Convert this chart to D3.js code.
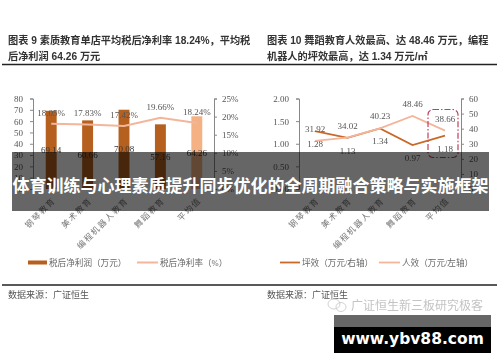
<!DOCTYPE html>
<html>
<head>
<meta charset="utf-8">
<script src="https://cdnjs.cloudflare.com/ajax/libs/d3/7.8.5/d3.min.js"></script>
<style>
    html, body { margin: 0; padding: 0; background: #fff; }
    svg { display: block; }
    text { font-family: "Liberation Serif", serif; fill: #555; }
    .cjk { font-family: "Liberation Serif", "Noto Sans CJK SC", sans-serif; }
    .head { font-family: "Liberation Sans", "Noto Sans CJK SC", sans-serif; }
    .axis path, .axis line { stroke: #888; }
    .soft { filter: blur(0.45px); }
</style>
</head>
<body>
<svg width="500" height="362"></svg>
<script>
// chart 9
const categories = ['钢琴教育', '美术教育', '编程机器人教育', '舞蹈教育', '平均值'];
const profit = [69.14, 60.66, 70.08, 57.16, 64.26];
const profitRate = [18.05, 17.83, 17.42, 19.66, 18.24];
const leftTicks = [0, 10, 20, 30, 40, 50, 60, 70, 80];
const rateTicks = [0, 5, 10, 15, 20, 25];

// chart 10
const floorEff = [1.28, 1.13, 1.34, 0.97, 1.18];
const staffEff = [31.92, 34.02, 40.23, 48.46, 38.66];
const floorTicks = [0, 0.5, 1, 1.5, 2];
const staffTicks = [0, 10, 20, 30, 40, 50, 60];

const svg = d3.select('svg');
const chart = svg.append('g').attr('class', 'soft');
const top_y = 98.5, bottom_y = 189;

function addText(g, str, x, y, size, opts = {}) {
    return g.append('text')
        .attr('class', opts.cls || 'cjk')
        .attr('x', x)
        .attr('y', y)
        .attr('font-size', size)
        .attr('font-weight', opts.weight || 400)
        .attr('text-anchor', opts.anchor || 'start')
        .style('fill', opts.fill || '#444')
        .text(str);
}

function styleAxis(g) {
    g.attr('class', 'axis');
    g.selectAll('text').attr('font-size', 9).style('fill', '#555');
    g.selectAll('line, path').attr('stroke', '#888');
}

function categoryLabels(g, x) {
    g.selectAll(null)
        .data(categories)
        .enter().append('text')
        .attr('class', 'cjk')
        .attr('font-size', 8.3)
        .attr('letter-spacing', 1.5)
        .attr('text-anchor', 'end')
        .style('fill', '#777')
        .attr('transform', d => `translate(${x(d) + 5}, 201) rotate(-45)`)
        .text(d => d);
}

// ---- headers and rules ----
const headOpts = { weight: 700, fill: '#333', cls: 'head' };
addText(chart, '图表 9 素质教育单店平均税后净利率 18.24%，平均税', 8, 43.5, 10.2, headOpts);
addText(chart, '后净利润 64.26 万元', 8, 59.5, 10.2, headOpts);
addText(chart, '图表 10 舞蹈教育人效最高、达 48.46 万元，编程', 267, 43.5, 10.2, headOpts);
addText(chart, '机器人的坪效最高，达 1.34 万元/㎡', 267, 59.5, 10.2, headOpts);

[[2, 497, 64.5], [2, 497, 285]].forEach(d => {
    chart.append('line')
        .attr('x1', d[0]).attr('x2', d[1])
        .attr('y1', d[2]).attr('y2', d[2])
        .attr('stroke', '#222').attr('stroke-width', 1.3);
});

addText(chart, '数据来源：广证恒生', 8, 297.5, 9, { fill: '#555' });
addText(chart, '数据来源：广证恒生', 267, 297.5, 9, { fill: '#555' });

// ---- chart 9: bars and rate line ----
const x9 = d3.scaleBand().domain(categories).range([33, 215]).paddingInner(0.7).paddingOuter(0.35);
const y9 = d3.scaleLinear().domain([0, 80]).range([bottom_y, top_y]);
const r9 = d3.scaleLinear().domain([0, 25]).range([bottom_y, top_y]);
const cx9 = d => x9(d) + x9.bandwidth() / 2;

chart.selectAll('.bar')
    .data(profit)
    .enter().append('rect')
    .attr('class', 'bar')
    .attr('x', (d, i) => x9(categories[i]))
    .attr('width', x9.bandwidth())
    .attr('y', d => y9(d))
    .attr('height', d => bottom_y - y9(d))
    .attr('fill', (d, i) => i === 4 ? '#f4b183' : '#b5601f');

chart.append('g')
    .attr('transform', 'translate(33, 0)')
    .call(d3.axisLeft(y9).tickValues(leftTicks).tickSize(3).tickPadding(7))
    .call(styleAxis);

chart.append('g')
    .attr('transform', 'translate(214, 0)')
    .call(d3.axisRight(r9).tickValues(rateTicks).tickFormat(d => d + '%').tickSize(3).tickPadding(5))
    .call(styleAxis);

chart.append('path')
    .datum(profitRate)
    .attr('fill', 'none')
    .attr('stroke', '#f4b59a')
    .attr('stroke-width', 2)
    .attr('d', d3.line().x((d, i) => cx9(categories[i])).y(d => r9(d)));

chart.selectAll('.rate-label')
    .data(profitRate)
    .enter().append('text')
    .attr('class', 'rate-label')
    .attr('x', (d, i) => cx9(categories[i]))
    .attr('y', d => r9(d) - 8)
    .attr('text-anchor', 'middle')
    .attr('font-size', 9)
    .text(d => d.toFixed(2) + '%');

chart.selectAll('.profit-label')
    .data(profit)
    .enter().append('text')
    .attr('class', 'profit-label')
    .attr('x', (d, i) => cx9(categories[i]))
    .attr('y', d => y9(d / 2) + 3)
    .attr('text-anchor', 'middle')
    .attr('font-size', 9)
    .style('fill', '#333')
    .text(d => d.toFixed(2));

categoryLabels(chart, d => cx9(d));

// legend 9
chart.append('rect').attr('x', 28).attr('y', 260.5).attr('width', 19).attr('height', 4).attr('fill', '#b5601f');
addText(chart, '税后净利润（万元）', 49, 266, 8.6, { fill: '#666' });
chart.append('line').attr('x1', 137).attr('x2', 158).attr('y1', 262.5).attr('y2', 262.5)
    .attr('stroke', '#f4b59a').attr('stroke-width', 2);
addText(chart, '税后净利率（%）', 160, 266, 8.6, { fill: '#666' });

// ---- chart 10: two lines ----
const x10 = d3.scalePoint().domain(categories).range([315, 445]);
const yFloor = d3.scaleLinear().domain([0, 2]).range([bottom_y, top_y]);
const yStaff = d3.scaleLinear().domain([0, 60]).range([bottom_y, top_y]);

chart.append('g')
    .attr('transform', 'translate(299, 0)')
    .call(d3.axisLeft(yFloor).tickValues(floorTicks).tickFormat(d3.format('.2f')).tickSize(3).tickPadding(7))
    .call(styleAxis);

chart.append('g')
    .attr('transform', 'translate(461, 0)')
    .call(d3.axisRight(yStaff).tickValues(staffTicks).tickSize(3).tickPadding(5))
    .call(styleAxis);

chart.append('path')
    .datum(floorEff)
    .attr('fill', 'none')
    .attr('stroke', '#c8692a')
    .attr('stroke-width', 1.8)
    .attr('d', d3.line().x((d, i) => x10(categories[i])).y(d => yFloor(d)));

chart.append('path')
    .datum(staffEff)
    .attr('fill', 'none')
    .attr('stroke', '#f4b59a')
    .attr('stroke-width', 1.8)
    .attr('d', d3.line().x((d, i) => x10(categories[i])).y(d => yStaff(d)));

chart.selectAll('.staff-label')
    .data(staffEff)
    .enter().append('text')
    .attr('class', 'staff-label')
    .attr('x', (d, i) => x10(categories[i]))
    .attr('y', d => yStaff(d) - 9)
    .attr('text-anchor', 'middle')
    .attr('font-size', 9)
    .text(d => d.toFixed(2));

chart.selectAll('.floor-label')
    .data(floorEff)
    .enter().append('text')
    .attr('class', 'floor-label')
    .attr('x', (d, i) => x10(categories[i]))
    .attr('y', d => yFloor(d) + 16)
    .attr('text-anchor', 'middle')
    .attr('font-size', 9)
    .text(d => d.toFixed(2));

categoryLabels(chart, d => x10(d));

// highlight around the average
chart.append('rect')
    .attr('x', 428).attr('y', 109.5)
    .attr('width', 30).attr('height', 48)
    .attr('rx', 5)
    .attr('fill', 'none')
    .attr('stroke', '#c2405a')
    .attr('stroke-width', 1.2)
    .attr('stroke-dasharray', '6 2 1.5 2');

// legend 10
chart.append('line').attr('x1', 280).attr('x2', 300).attr('y1', 262.5).attr('y2', 262.5)
    .attr('stroke', '#c8692a').attr('stroke-width', 1.8);
addText(chart, '坪效（万元/右轴）', 302, 266, 8.6, { fill: '#666' });
chart.append('line').attr('x1', 379).attr('x2', 400).attr('y1', 262.5).attr('y2', 262.5)
    .attr('stroke', '#f4b59a').attr('stroke-width', 1.8);
addText(chart, '人效（万元/左轴）', 402, 266, 8.6, { fill: '#666' });

// ---- watermark ----
const wm = chart.append('g').attr('fill', 'none').attr('stroke', '#ccc').attr('stroke-width', 0.9);
wm.append('ellipse').attr('cx', 334).attr('cy', 304).attr('rx', 6).attr('ry', 5);
wm.append('ellipse').attr('cx', 341).attr('cy', 307).attr('rx', 5).attr('ry', 4.5);
chart.append('text').attr('class', 'cjk')
    .attr('x', 351).attr('y', 310)
    .attr('font-size', 12)
    .style('fill', '#c4c4c4')
    .text('广证恒生新三板研究极客');

// ---- banner overlay ----
svg.append('rect')
    .attr('x', 12).attr('y', 152)
    .attr('width', 477).attr('height', 59)
    .attr('fill', '#000').attr('fill-opacity', 0.6);
svg.append('text')
    .attr('x', 250.5).attr('y', 192)
    .attr('text-anchor', 'middle')
    .attr('font-size', 17)
    .attr('font-weight', 700)
    .style('font-family', '"Noto Sans CJK SC", sans-serif')
    .style('fill', '#fff')
    .text('体育训练与心理素质提升同步优化的全周期融合策略与实施框架');

// ---- url box ----
svg.append('rect').attr('x', 334).attr('y', 315).attr('width', 157).attr('height', 12).attr('fill', '#666');
svg.append('rect').attr('x', 334).attr('y', 327).attr('width', 157).attr('height', 26).attr('fill', '#000');
svg.append('text')
    .attr('x', 412.5).attr('y', 343.5)
    .attr('text-anchor', 'middle')
    .attr('font-size', 15.5)
    .attr('font-weight', 700)
    .style('font-family', '"DejaVu Sans", sans-serif')
    .style('fill', '#fff')
    .text('www.ybv88.com');
</script>
</body>
</html>
